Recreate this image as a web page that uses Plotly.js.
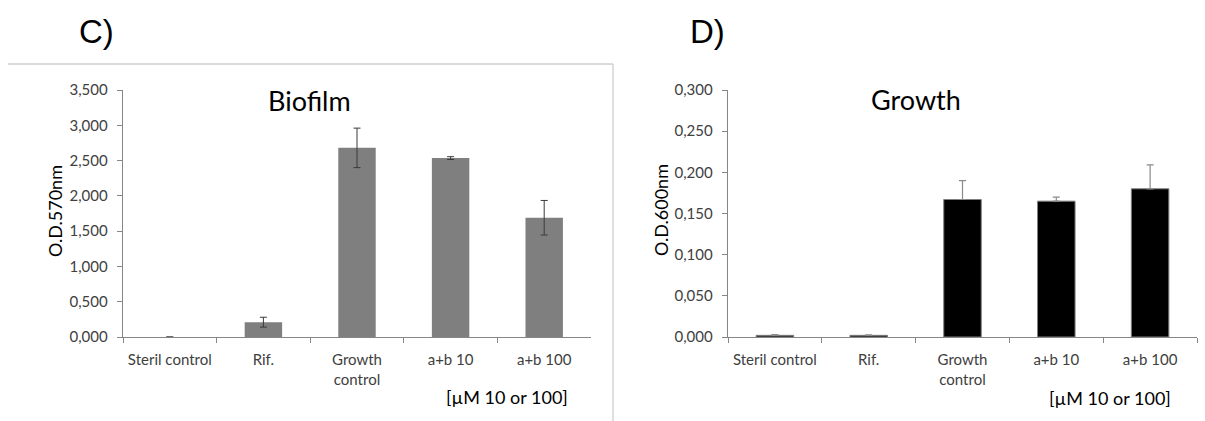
<!DOCTYPE html>
<html><head><meta charset="utf-8">
<script src="https://cdn.plot.ly/plotly-3.0.1.min.js"></script>
<style>html,body{margin:0;padding:0;background:#fff}#chart{width:1205px;height:421px}</style>
</head><body><div id="chart"></div>
<script>
const categories = ["Steril control", "Rif.", "Growth<br>control", "a+b 10", "a+b 100"];
const biofilmValues = [0, 0.21, 2.68, 2.535, 1.69];
const biofilmErrors = [null, 0.07, 0.28, 0.02, 0.245];
const growthValues = [0.002, 0.002, 0.167, 0.165, 0.180];
const growthErrors = [0.001, 0.0005, 0.023, 0.005, 0.029];
const biofilmTicks = [0, 0.5, 1, 1.5, 2, 2.5, 3, 3.5];
const growthTicks = [0, 0.05, 0.1, 0.15, 0.2, 0.25, 0.3];

const FONT = "Lato, 'Noto Sans', sans-serif";
const tickFont = {family: FONT, size: 15, color: "#404040"};

const traces = [
  {type: "bar", x: categories, y: biofilmValues, xaxis: "x", yaxis: "y",
   marker: {color: "#7f7f7f", line: {color: "#8c8c8c", width: 0}},
   error_y: {type: "data", array: biofilmErrors, symmetric: true, color: "#3a3a3a", thickness: 1, width: 3.5},
   hoverinfo: "skip"},
  {type: "bar", x: categories, y: growthValues, xaxis: "x2", yaxis: "y2",
   marker: {color: "#000000", line: {color: "#7f7f7f", width: 1}},
   error_y: {type: "data", array: growthErrors, arrayminus: growthErrors.map(() => 0), symmetric: false, color: "#8a8a8a", thickness: 1.2, width: 3.5},
   hoverinfo: "skip"}
];

function xax(domain) {
  return {domain: domain, type: "category", showgrid: false, zeroline: false,
    showline: true, linecolor: "#868686", linewidth: 1.3,
    ticks: "outside", tickson: "boundaries", ticklen: 5, tickcolor: "#868686",
    tickfont: tickFont, ticklabelstandoff: 9, fixedrange: true};
}
function yax(range, ticks, anchor) {
  return {domain: [84/421, 331/421], range: range, tickvals: ticks, tickformat: ".3f",
    showgrid: false, zeroline: false, showline: true, linecolor: "#868686", linewidth: 1.3,
    ticks: "outside", ticklen: 5, tickcolor: "#868686", tickfont: tickFont,
    ticklabelstandoff: 6, anchor: anchor, fixedrange: true};
}
function ann(text, x, y, size, extra) {
  return Object.assign({text: text, xref: "paper", yref: "paper", x: x/1205, y: 1 - y/421,
    xanchor: "center", yanchor: "middle", showarrow: false,
    font: {family: FONT, size: size, color: "#000"}}, extra || {});
}

const layout = {
  width: 1205, height: 421, margin: {l: 0, r: 0, t: 0, b: 0},
  paper_bgcolor: "#fff", plot_bgcolor: "rgba(0,0,0,0)",
  separators: ",.", showlegend: false, bargap: 0.6,
  xaxis: Object.assign(xax([123/1205, 591/1205]), {anchor: "y"}),
  yaxis: yax([0, 3.5], biofilmTicks, "x"),
  xaxis2: Object.assign(xax([728/1205, 1197/1205]), {anchor: "y2"}),
  yaxis2: yax([0, 0.3], growthTicks, "x2"),
  shapes: [
    {type: "line", xref: "paper", yref: "paper", x0: 8/1205, x1: 613/1205, y0: 1 - 64/421, y1: 1 - 64/421, line: {color: "#d0cdcd", width: 1.3}},
    {type: "line", xref: "paper", yref: "paper", x0: 613/1205, x1: 613/1205, y0: 1 - 64/421, y1: 0, line: {color: "#d0cdcd", width: 1.3}}
  ],
  annotations: [
    ann("C)", 96, 31, 33, {font: {family: "'Liberation Sans', Arial, sans-serif", size: 33, color: "#000"}}),
    ann("D)", 707, 31, 33, {font: {family: "'Liberation Sans', Arial, sans-serif", size: 33, color: "#000"}}),
    ann("Biofilm", 310, 100, 27),
    ann("Growth", 916, 99, 27),
    ann("O.D.570nm", 55, 211, 18, {textangle: -90}),
    ann("O.D.600nm", 661, 210, 18, {textangle: -90}),
    ann("[µM 10 or 100]", 507, 397, 18),
    ann("[µM 10 or 100]", 1110, 398, 18)
  ]
};

Plotly.newPlot("chart", traces, layout, {staticPlot: true, displayModeBar: false});
</script></body></html>
